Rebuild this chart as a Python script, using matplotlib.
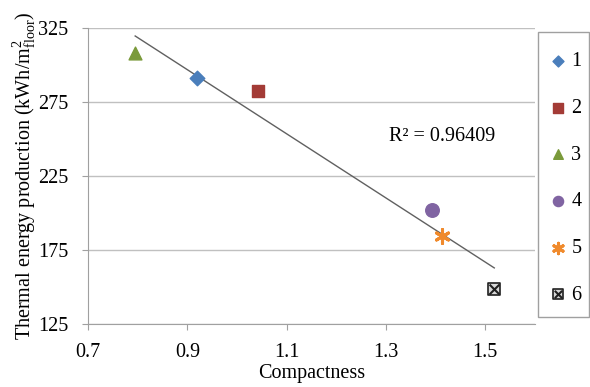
import numpy as np
import matplotlib
matplotlib.use("Agg")
import matplotlib.pyplot as plt
from matplotlib.legend_handler import HandlerTuple
from matplotlib.patches import Rectangle

plt.rcParams['font.family'] = ['Liberation Serif', 'DejaVu Serif']
plt.rcParams['mathtext.fontset'] = 'custom'
plt.rcParams['mathtext.rm'] = 'Liberation Serif'
plt.rcParams['mathtext.it'] = 'Liberation Serif'

labels = ['1', '2', '3', '4', '5', '6']
compactness = [0.92, 1.043, 0.795, 1.393, 1.413, 1.518]
energy = [291, 282.5, 308, 202, 184.5, 148.5]
colors = ['#4a7ebb', '#a33b36', '#7a9a3a', '#8064a2', '#f08a2c', '#404040']
r2_text = 'R² = 0.96409'

fig = plt.figure(figsize=(5.9, 3.87), dpi=100)
ax = fig.add_axes([88/590, 1-324/387, (535-88)/590, (324-28)/387])

h1 = ax.scatter(compactness[0], energy[0], marker='D', s=55, color=colors[0], zorder=3)
h2 = ax.scatter(compactness[1], energy[1], marker='s', s=85, color=colors[1], zorder=3)
h3 = ax.scatter(compactness[2], energy[2], marker='^', s=85, color=colors[2], zorder=3)
h4 = ax.scatter(compactness[3], energy[3], marker='o', s=95, color=colors[3], zorder=3)
h5 = ax.scatter(compactness[4], energy[4], marker=(6, 2, 0), s=100, color=colors[4], linewidths=2.2, zorder=3)
h6a = ax.scatter(compactness[5], energy[5], marker='s', s=85, facecolor='#d8d8d8', edgecolor='#202020', linewidths=1.2, zorder=3)
h6b = ax.scatter(compactness[5], energy[5], marker='x', s=50, color='#202020', linewidths=1.5, zorder=4)
handles = [h1, h2, h3, h4, h5, (h6a, h6b)]

# linear trendline
coef = np.polyfit(compactness, energy, 1)
xs = np.array([min(compactness), max(compactness)])
ax.plot(xs, np.polyval(coef, xs), color='#606060', lw=1, zorder=2)

ax.text(1.306, 251.4, r2_text, fontsize=14.5, va='center', ha='left')

ax.set_xlim(0.7, 1.6)
ax.set_ylim(125, 325)
ax.set_xticks([0.7, 0.9, 1.1, 1.3, 1.5])
ax.set_yticks([125, 175, 225, 275, 325])
ax.yaxis.grid(True, color='#c0c0c0', lw=1)
ax.set_axisbelow(True)
for s in ['top', 'right']:
    ax.spines[s].set_visible(False)
for s in ['left', 'bottom']:
    ax.spines[s].set_color('#a0a0a0')
ax.tick_params(axis='both', labelsize=14.5, color='#a0a0a0')
ax.tick_params(axis='y', length=4, pad=10)
ax.tick_params(axis='x', length=4, pad=10)

ax.set_xlabel('Compactness', fontsize=14.5, labelpad=1)
ax.set_ylabel(r'Thermal energy production (kWh/m$^2_{\rm floor}$)', fontsize=14.5, labelpad=0)

# legend box drawn separately
fig.patches.append(Rectangle((538/590, 1-317/387), (589-538)/590, (317-32)/387,
                             transform=fig.transFigure, facecolor='white',
                             edgecolor='#a0a0a0', lw=1, zorder=0))

leg = fig.legend(handles, labels, loc='upper left', bbox_to_anchor=(533/590, 1-36/387),
                 bbox_transform=fig.transFigure, fontsize=14.5, frameon=False,
                 labelspacing=1.37, handlelength=0.9, handletextpad=0.2,
                 borderpad=0.8, borderaxespad=0, markerscale=0.75,
                 handler_map={tuple: HandlerTuple(ndivide=1, pad=0)})

fig.savefig('out.png', dpi=100)
